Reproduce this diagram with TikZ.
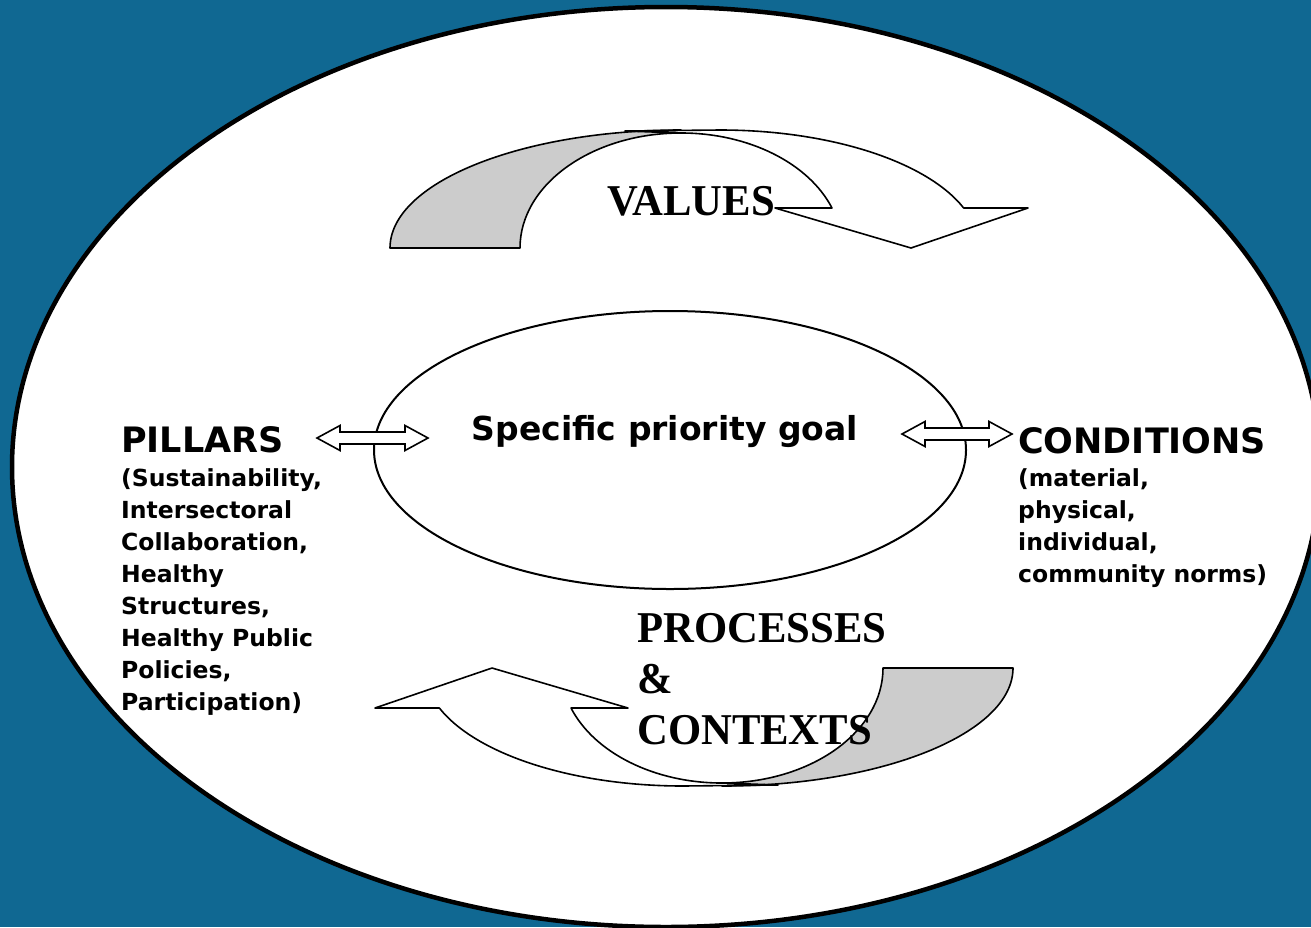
\documentclass[tikz,border=0pt]{standalone}
\usepackage{fontspec}
\usetikzlibrary{calc}
\newfontfamily\labelfont{DejaVu Sans}
\newfontfamily\ribbonfont{Liberation Serif}[FakeStretch=0.97]
\definecolor{slideblue}{RGB}{16,104,146}
\definecolor{bandgray}{RGB}{204,204,204}

% block arrow with a head at both ends, tip #1 on the left, tip #2 on the right
\newcommand{\twoway}[2]{%
  \draw[block_arrow] (#1) -- ++(23,12.5) -- ++(0,-6.5) -- ($(#2)+(-23,6)$) -- ++(0,6.5) -- (#2)
    -- ++(-23,-12.5) -- ++(0,6.5) -- ($(#1)+(23,-6)$) -- ++(0,-6.5) -- cycle;}

% curved band arrow, back part grey, head pointing down on the right
\newcommand{\ribbon}{%
  \draw[back_band] (390,-248) arc[start angle=180, end angle=90, x radius=291pt, y radius=118pt]
    -- (681,-133) arc[start angle=90, end angle=180, x radius=161pt, y radius=115pt] -- cycle;
  \draw[front_band] (625,-131) -- (720,-130) arc[start angle=90, end angle=19.8, x radius=259pt, y radius=118pt]
    -- (1028,-208) -- (911,-248) -- (775,-208) -- (832,-208)
    arc[start angle=20.35, end angle=90, x radius=161pt, y radius=115pt] -- cycle;}

\begin{document}
\begin{tikzpicture}[x=1pt,y=1pt,
    goal_text/.style={font={\labelfont\bfseries\fontsize{33}{40}\selectfont}, inner sep=0},
    head_text/.style={font={\labelfont\bfseries\fontsize{35}{40}\selectfont}, inner sep=0},
    list_text/.style={font={\labelfont\bfseries\fontsize{23.5}{32}\selectfont}, align=left, inner sep=0},
    ribbon_text/.style={font={\ribbonfont\bfseries\fontsize{44}{51}\selectfont}, align=left, inner sep=0},
    back_band/.style={draw, line width=1.6pt, fill=bandgray, line join=round},
    front_band/.style={draw, line width=1.6pt, fill=white, line join=round},
    block_arrow/.style={draw, line width=1.6pt, fill=white, line join=miter}]
    \useasboundingbox (0,0) rectangle (1311,-927);
    \clip (0,0) rectangle (1311,-927);
    \fill[slideblue] (0,0) rectangle (1311,-927);

    % outer and inner ellipse
    \draw[line width=4.5pt, fill=white] (666,-467) ellipse [x radius=654pt, y radius=460pt];
    \draw[line width=2pt] (670,-450) ellipse [x radius=296pt, y radius=139pt];

    % values arrow, and the same arrow turned round for processes
    \ribbon
    \begin{scope}[rotate around={180:(701.5,-458)}]
        \ribbon
    \end{scope}

    % multi-line nodes sit on the baseline of their last line
    \node[goal_text, anchor=base] (goal) at (665,-440) {Specific priority goal};
    \node[head_text, anchor=base west] (pillars) at (121,-452) {PILLARS};
    \node[list_text, anchor=base west] (pillar_list) at (121,-710) {(Sustainability,\\Intersectoral\\Collaboration,\\Healthy\\Structures,\\Healthy Public\\Policies,\\Participation)};
    \node[head_text, anchor=base west] (conditions) at (1018,-453) {CONDITIONS};
    \node[list_text, anchor=base west] (condition_list) at (1018,-582) {(material,\\physical,\\individual,\\community norms)};
    \node[ribbon_text, anchor=base west] (values) at (607,-215) {VALUES};
    \node[ribbon_text, anchor=base west] (processes) at (637,-744) {PROCESSES\\\&\\CONTEXTS};

    % two-way arrows between the goal and both sides
    \coordinate (pl) at (317,-438);
    \coordinate (pr) at (428,-438);
    \coordinate (cl) at (902,-434);
    \coordinate (cr) at (1012,-434);
    \twoway{pl}{pr}
    \twoway{cl}{cr}
\end{tikzpicture}
\end{document}
